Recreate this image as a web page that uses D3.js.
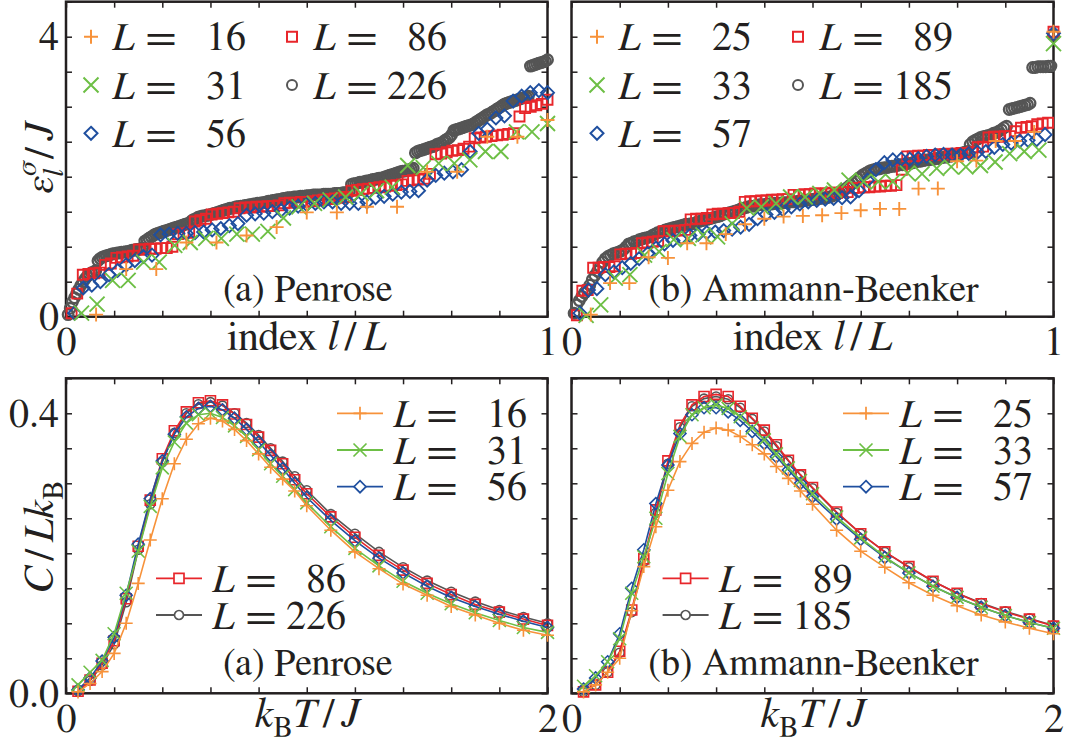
<!DOCTYPE html>
<html><head><meta charset="utf-8">
<script src="https://cdn.jsdelivr.net/npm/d3@7"></script>
<style>
body{margin:0;background:#fff;}
svg{display:block;}
</style></head><body>
<svg id="c" width="1065" height="744"></svg>
<script>
// ---------------- DATA ----------------
const sizesA = [16, 31, 56, 86, 226];
const sizesB = [25, 33, 57, 89, 185];
const seriesColors = ["#f7923a", "#6dbf45", "#1f4f9f", "#e8262b", "#555555"];
const seriesMarkers = ["plus", "cross", "diamond", "square", "circle"];

const epsA16 = [0.03,0.68,0.68,1.06,1.06,1.16,1.28,1.49,1.49,1.57,1.57,2.07,2.07,2.57,2.57,2.81];
const epsA31 = [0.05,0.18,0.52,0.52,0.78,0.78,1.02,1.06,1.12,1.12,1.18,1.18,1.22,1.41,1.57,1.62,1.67,1.71,1.76,1.80,1.85,2.16,2.13,2.19,2.19,2.24,2.36,2.36,2.64,2.64,2.76];
const epsA56 = [0.05,0.41,0.45,0.50,0.60,0.66,0.74,0.80,0.86,0.88,
 1.17,1.18,1.19,1.19,1.20,1.21,1.24,1.26,1.30,1.33,
 1.45,1.47,1.48,1.50,1.52,1.55,1.58,1.60,1.62,1.64,
 1.64,1.62,1.62,1.62,1.64,1.70,1.72,1.75,1.78,1.79,
 1.80,1.95,2.02,2.05,2.07,2.10,2.36,2.62,2.68,2.84,
 2.87,3.08,3.15,3.20,3.23,3.20];
const epsA86 = [0.05,0.33,0.60,0.61,0.62,0.63,0.74,0.76,0.84,0.85,
 0.86,0.87,0.96,0.96,0.97,0.97,0.98,0.98,1.00,1.18,
 1.19,1.20,1.36,1.38,1.40,1.46,1.47,1.48,1.49,1.50,
 1.55,1.56,1.56,1.57,1.57,1.58,1.58,1.59,1.62,1.63,
 1.63,1.64,1.64,1.65,1.66,1.67,1.68,1.69,1.70,1.71,
 1.80,1.81,1.82,1.83,1.84,1.85,1.86,1.87,1.88,1.89,
 1.94,1.95,1.96,1.97,2.04,2.32,2.33,2.35,2.37,2.38,
 2.40,2.43,2.55,2.56,2.57,2.58,2.59,2.60,2.61,2.62,
 2.86,2.98,3.00,3.02,3.04,3.10];
const epsA226 = [0.03,0.12,0.21,0.27,0.33,0.39,0.45,0.50,0.54,0.58,
 0.61,0.63,0.64,0.66,0.80,0.83,0.85,0.86,0.87,0.88,
 0.89,0.90,0.90,0.91,0.91,0.92,0.92,0.93,0.93,0.94,0.95,
 0.95,0.96,0.96,0.97,0.98,
 1.08,1.10,
 1.12,1.14,1.16,1.18,
 1.19,1.20,1.21,1.22,1.23,1.24,1.25,1.26,
 1.27,1.28,1.29,1.30,1.31,1.32,1.33,1.34,
 1.37,1.39,1.40,1.42,1.43,
 1.44,1.44,1.45,1.45,1.46,1.47,1.48,
 1.49,1.50,1.51,1.52,1.53,1.54,1.55,1.55,
 1.56,1.57,1.57,1.58,1.58,1.59,1.59,1.60,
 1.60,1.61,1.61,1.62,1.62,1.63,1.63,1.64,
 1.65,1.65,1.66,1.66,1.67,1.67,1.68,1.69,
 1.69,1.70,1.70,1.70,1.71,1.71,1.71,1.72,1.72,1.72,1.73,1.73,1.73,1.74,1.74,
 1.74,1.74,1.74,1.75,1.75,1.75,1.75,1.75,1.76,1.76,1.76,1.76,1.77,1.77,1.77,
 1.78,
 1.89,1.90,1.90,1.91,1.92,1.92,1.93,1.94,1.94,1.95,1.96,1.96,1.97,1.98,1.98,1.99,2.00,2.01,2.02,2.03,2.04,2.05,
 2.06,2.07,2.08,2.08,2.09,2.10,2.11,2.12,
 2.34,
 2.36,2.37,2.38,2.39,2.40,2.41,2.42,2.43,2.44,2.46,2.47,2.48,2.50,2.52,
 2.54,2.56,2.60,
 2.66,
 2.67,2.68,2.69,2.70,2.71,2.72,2.73,2.74,2.75,
 2.77,2.79,2.81,2.83,2.85,2.87,2.89,2.90,
 2.92,2.94,2.96,2.98,3.00,3.02,3.04,3.05,
 3.06,3.07,3.08,3.09,3.10,3.11,3.12,3.13,3.14,3.15,
 3.58,3.59,3.60,3.61,3.62,3.63,3.64,3.65,3.67];

const epsB25 = [0.03,0.48,0.48,0.85,0.84,1.05,1.05,1.18,1.32,1.40,1.43,1.44,1.45,1.48,1.52,1.54,1.54,1.83,1.83,2.22,2.23,2.51,2.51,2.64,4.07];
const epsB33 = [0.02,0.17,0.55,0.60,0.88,0.93,1.10,1.12,1.17,1.14,1.33,1.55,1.57,1.62,1.71,1.71,1.76,1.81,1.95,1.93,1.93,1.93,2.05,2.04,2.12,2.14,2.14,2.16,2.21,2.33,2.36,2.38,3.90];
const epsB57 = [0.05,0.38,0.40,0.60,0.64,0.70,0.76,0.83,0.90,0.98,
 1.04,1.09,1.13,1.16,1.18,1.20,1.21,1.23,1.25,1.28,
 1.32,1.40,1.46,1.49,1.53,1.57,1.61,1.64,1.66,1.68,
 1.69,1.70,1.71,1.80,1.95,2.10,2.20,2.24,2.25,2.25,
 2.26,2.29,2.31,2.32,2.31,2.31,2.33,2.35,2.36,2.42,
 2.46,2.48,2.51,2.52,2.53,2.60,4.05];
const epsB89 = [0.02,0.37,0.38,0.70,0.70,0.71,0.71,0.72,0.89,0.90,
 0.90,0.91,1.05,1.06,1.07,1.08,1.22,1.22,1.23,1.23,
 1.24,1.39,1.40,1.40,1.41,1.46,1.47,1.47,1.48,1.48,
 1.50,1.64,1.65,1.65,1.66,1.66,1.67,1.67,1.68,1.68,
 1.74,1.74,1.75,1.75,1.76,1.76,1.76,1.77,1.77,1.78,
 1.78,1.84,1.84,1.85,1.85,1.86,1.86,1.87,1.87,1.88,
 2.10,2.29,2.29,2.30,2.30,2.31,2.31,2.32,2.32,2.33,
 2.33,2.34,2.34,2.35,2.42,2.43,2.56,2.57,2.57,2.58,
 2.58,2.65,2.70,2.71,2.72,2.75,2.76,2.77,4.07];
const epsB185 = [0.05,0.17,0.23,0.29,0.34,0.39,0.45,0.53,0.59,0.65,
 0.71,0.78,0.83,0.86,0.88,0.90,0.91,0.92,0.94,0.96,
 1.00,1.04,1.05,1.07,1.08,1.10,
 1.11,1.12,1.13,1.14,
 1.16,1.18,1.20,1.21,
 1.22,1.24,1.25,1.26,
 1.27,1.28,1.29,1.30,1.31,
 1.32,1.32,1.33,1.33,
 1.35,1.36,1.37,1.38,1.39,1.40,
 1.41,1.42,1.43,1.44,1.46,1.47,1.48,
 1.49,1.50,1.51,1.52,1.54,1.55,
 1.56,1.57,1.58,1.58,1.59,1.60,
 1.60,1.60,1.61,1.61,1.61,1.62,1.62,1.62,1.63,1.63,1.63,1.64,1.64,
 1.64,1.65,1.65,1.66,1.66,1.67,1.67,1.68,1.68,1.69,1.69,1.70,1.70,
 1.71,1.72,1.74,1.75,1.77,1.79,
 1.82,1.85,1.88,1.91,1.94,1.97,2.00,
 2.03,2.05,2.07,2.09,2.10,
 2.11,2.11,2.12,2.13,2.13,2.14,2.15,2.15,2.16,2.17,
 2.17,2.18,2.19,2.19,2.20,2.21,2.22,2.22,2.23,2.24,
 2.24,2.25,2.25,2.26,2.26,2.27,2.28,2.28,2.29,
 2.30,2.31,2.32,2.33,2.34,2.35,2.36,
 2.46,2.50,2.52,2.54,2.56,2.57,
 2.58,2.59,2.60,2.62,2.63,2.65,2.67,2.70,
 2.72,
 2.96,2.97,2.98,2.99,3.00,3.01,3.02,3.03,3.05,
 3.56,3.56,3.57,3.57,3.57,3.57,3.58,3.58,
 4.02];

const temps = [0.05,0.1,0.15,0.2,0.25,0.3,0.35,0.4,0.45,0.5,0.55,0.6,0.65,0.7,0.75,0.8,0.85,0.9,0.95,1.0,1.1,1.2,1.3,1.4,1.5,1.6,1.7,1.8,1.9,2.0];
const heatA16  = [0.002,0.014,0.031,0.057,0.100,0.157,0.219,0.278,0.328,0.363,0.385,0.393,0.389,0.377,0.361,0.342,0.323,0.306,0.289,0.268,0.233,0.202,0.178,0.156,0.140,0.124,0.112,0.100,0.090,0.083];
const heatA31  = [0.012,0.030,0.047,0.085,0.143,0.203,0.267,0.322,0.359,0.386,0.398,0.400,0.394,0.382,0.367,0.348,0.328,0.310,0.291,0.272,0.238,0.207,0.182,0.160,0.143,0.128,0.115,0.104,0.094,0.087];
const heatA56  = [0.005,0.022,0.046,0.080,0.140,0.213,0.278,0.332,0.370,0.395,0.407,0.410,0.405,0.393,0.377,0.359,0.340,0.321,0.300,0.280,0.247,0.218,0.193,0.172,0.153,0.137,0.124,0.113,0.103,0.094];
const heatA86  = [0.003,0.019,0.043,0.075,0.135,0.210,0.276,0.335,0.375,0.402,0.415,0.418,0.412,0.399,0.384,0.366,0.347,0.328,0.305,0.285,0.252,0.223,0.197,0.176,0.157,0.141,0.127,0.116,0.106,0.097];
const heatA226 = [0.003,0.018,0.040,0.070,0.130,0.205,0.270,0.330,0.372,0.400,0.413,0.416,0.411,0.400,0.386,0.369,0.350,0.331,0.310,0.290,0.256,0.228,0.202,0.180,0.161,0.145,0.131,0.119,0.109,0.100];
const heatB25  = [0.002,0.012,0.030,0.050,0.118,0.181,0.238,0.290,0.331,0.357,0.373,0.379,0.376,0.367,0.355,0.342,0.324,0.307,0.289,0.270,0.233,0.203,0.180,0.158,0.140,0.125,0.112,0.102,0.093,0.085];
const heatB33  = [0.010,0.025,0.045,0.078,0.143,0.195,0.250,0.314,0.367,0.398,0.408,0.412,0.407,0.395,0.379,0.362,0.342,0.322,0.304,0.285,0.252,0.222,0.195,0.172,0.153,0.137,0.123,0.111,0.101,0.093];
const heatB57  = [0.006,0.022,0.045,0.085,0.150,0.205,0.271,0.326,0.371,0.398,0.408,0.408,0.402,0.390,0.374,0.357,0.338,0.319,0.300,0.281,0.249,0.220,0.194,0.172,0.153,0.137,0.123,0.111,0.101,0.093];
const heatB89  = [0.002,0.012,0.030,0.060,0.119,0.192,0.262,0.332,0.383,0.412,0.424,0.427,0.424,0.410,0.393,0.376,0.355,0.333,0.312,0.294,0.259,0.228,0.202,0.181,0.160,0.143,0.128,0.116,0.106,0.096];
const heatB185 = [0.002,0.012,0.030,0.058,0.116,0.188,0.258,0.328,0.380,0.410,0.421,0.424,0.420,0.408,0.392,0.374,0.353,0.332,0.312,0.293,0.258,0.228,0.202,0.180,0.160,0.143,0.129,0.117,0.107,0.097];

const indexTicks = d3.range(0, 10.5, 1).map(d => d / 10);
const indexTickLabels = [0, 1];
const epsTicks = d3.range(0, 9.5, 1).map(d => d / 2);
const epsTickLabels = [0, 4];
const tempTicks = d3.range(0, 10.5, 1).map(d => d / 5);
const tempTickLabels = [0, 2];
const heatTicks = d3.range(0, 9.5, 1).map(d => d / 20);
const heatTickLabels = [0, 0.4];
const panelNames = ["(a) Penrose", "(b) Ammann-Beenker"];

// ---------------- FONT PICK ----------------
function fontAvailable(name) {
  const c = document.createElement("canvas").getContext("2d");
  const s = "mmmmmmmmmmlli1WQ@#ajgy";
  const res = [];
  for (const base of ["monospace", "sans-serif", "cursive"]) {
    c.font = `72px ${base}`; const w0 = c.measureText(s).width;
    c.font = `72px "${name}", ${base}`; const w1 = c.measureText(s).width;
    res.push(Math.abs(w1 - w0) > 0.5);
  }
  return res.every(v => v);
}
const candidates = ["Liberation Serif", "FreeSerif", "Tinos", "Times New Roman", "Nimbus Roman", "Noto Serif", "DejaVu Serif"];
const found = candidates.filter(fontAvailable);
const FONT = found.length ? `"${found[0]}", serif` : "serif";

// ---------------- DRAW ----------------
const svg = d3.select("#c");
const INK = "#231f20";
const FS = 40;
svg.style("font-family", FONT);

const epsA = [epsA16, epsA31, epsA56, epsA86, epsA226];
const epsB = [epsB25, epsB33, epsB57, epsB89, epsB185];
const heatA = [heatA16, heatA31, heatA56, heatA86, heatA226];
const heatB = [heatB25, heatB33, heatB57, heatB89, heatB185];

function markerPath(type, s) {
  switch (type) {
    case "plus": return `M${-s.p},0H${s.p}M0,${-s.p}V${s.p}`;
    case "cross": return `M${-s.x},${-s.x}L${s.x},${s.x}M${-s.x},${s.x}L${s.x},${-s.x}`;
    case "square": return `M${-s.s},${-s.s}H${s.s}V${s.s}H${-s.s}Z`;
    case "diamond": return `M0,${-s.d}L${s.d},0L0,${s.d}L${-s.d},0Z`;
    default: return `M${s.c},0A${s.c},${s.c} 0 1,1 ${-s.c},0A${s.c},${s.c} 0 1,1 ${s.c},0Z`;
  }
}
const topSize = {p: 7, x: 7.5, s: 5, d: 6.5, c: 5.3};
const legSize = {p: 7, x: 7.5, s: 5, d: 6.5, c: 5};
const botSize = {p: 6.5, x: 6.5, s: 5, d: 6, c: 4.5};

function txt(g) { return g.append("text").attr("font-family", FONT).attr("fill", INK); }

function frameAndAxes(g, x, y, xt, xl, yt, yl, showY) {
  const [yb, yt0] = y.range();
  const [xl0, xr] = x.range();
  const fmtX = d => xl.some(v => Math.abs(v - d) < 1e-9) ? d3.format("d")(d) : "";
  const fmtY = d => yl.some(v => Math.abs(v - d) < 1e-9) ? (yl[1] < 1 ? d3.format(".1f")(d) : d3.format("d")(d)) : "";
  const style = a => a.attr("font-size", FS).attr("font-family", FONT).attr("color", INK)
    .call(s => s.select(".domain").remove())
    .call(s => s.selectAll(".tick line").attr("stroke-width", 1.5));
  g.append("g").attr("transform", `translate(0,${yb})`)
    .call(d3.axisBottom(x).tickValues(xt).tickSize(-6).tickSizeOuter(0).tickPadding(10).tickFormat(fmtX)).call(style);
  g.append("g").attr("transform", `translate(0,${yt0})`)
    .call(d3.axisTop(x).tickValues(xt).tickSize(-6).tickSizeOuter(0).tickFormat("")).call(style);
  g.append("g").attr("transform", `translate(${xl0},0)`)
    .call(d3.axisLeft(y).tickValues(yt).tickSize(-6).tickSizeOuter(0).tickPadding(7).tickFormat(showY ? fmtY : "")).call(style);
  g.append("g").attr("transform", `translate(${xr},0)`)
    .call(d3.axisRight(y).tickValues(yt).tickSize(-6).tickSizeOuter(0).tickFormat("")).call(style);
  g.append("rect").attr("x", xl0).attr("y", yt0).attr("width", xr - xl0).attr("height", yb - yt0)
    .attr("fill", "none").attr("stroke", INK).attr("stroke-width", 2.5);
}

function legendText(g, mx, my, L, offL, offEq, offNum) {
  const by = my + 13.5;
  const t = txt(g).attr("y", by).attr("font-size", FS);
  t.append("tspan").attr("x", mx + offL).attr("font-style", "italic").text("L");
  t.append("tspan").attr("x", mx + offEq).attr("textLength", 30).attr("lengthAdjust", "spacingAndGlyphs").text("=");
  const num = String(L);
  t.append("tspan").attr("x", mx + offNum - num.length * FS * 0.5).text(num);
}

function topPanel(x0, x1, sizes, eps, legendX, name, showY) {
  const g = svg.append("g");
  const x = d3.scaleLinear().domain([0, 1]).range([x0, x1]);
  const y = d3.scaleLinear().domain([0, 4.5]).range([316.7, 1.7]);
  frameAndAxes(g, x, y, indexTicks, indexTickLabels, epsTicks, epsTickLabels, showY);
  [4, 3, 2, 1, 0].forEach(k => {
    const L = sizes[k];
    const pts = eps[k].map((v, i) => [x((i + 1) / L), y(v)]);
    g.append("g").selectAll("path").data(pts).join("path")
      .attr("d", markerPath(seriesMarkers[k], topSize))
      .attr("transform", d => `translate(${d[0]},${d[1]})`)
      .attr("fill", "none").attr("stroke", seriesColors[k]).attr("stroke-width", k === 4 ? 2.3 : 1.9);
  });
  const rows = [36.7, 85, 133.3];
  sizes.forEach((L, k) => {
    const mx = k < 3 ? legendX[0] : legendX[1];
    const my = rows[k % 3];
    g.append("path").attr("d", markerPath(seriesMarkers[k], legSize))
      .attr("transform", `translate(${mx},${my})`)
      .attr("fill", "none").attr("stroke", seriesColors[k]).attr("stroke-width", 2);
    legendText(g, mx, my, L, 21, 55, 155);
  });
  txt(g).attr("x", (x0 + x1) / 2 + 1).attr("y", 301).attr("text-anchor", "middle")
    .attr("font-size", 38).text(name);
  const t = txt(g).attr("x", (x0 + x1) / 2).attr("y", 350).attr("text-anchor", "middle").attr("font-size", 42);
  t.append("tspan").text("index ");
  t.append("tspan").attr("font-style", "italic").text("l");
  t.append("tspan").attr("dx", 6).text("/");
  t.append("tspan").attr("dx", 6).attr("font-style", "italic").text("L");
}

function botPanel(x0, x1, sizes, heat, legR, legL, name, showY) {
  const g = svg.append("g");
  const x = d3.scaleLinear().domain([0, 2]).range([x0, x1]);
  const y = d3.scaleLinear().domain([0, 0.45]).range([693.3, 378.3]);
  frameAndAxes(g, x, y, tempTicks, tempTickLabels, heatTicks, heatTickLabels, showY);
  const line = d3.line().x(d => x(d[0])).y(d => y(d[1]));
  [4, 3, 2, 1, 0].forEach(k => {
    const pts = heat[k].map((v, i) => [temps[i], v]);
    g.append("path").attr("d", line(pts)).attr("fill", "none")
      .attr("stroke", seriesColors[k]).attr("stroke-width", 1.6);
    g.append("g").selectAll("path").data(pts).join("path")
      .attr("d", markerPath(seriesMarkers[k], botSize))
      .attr("transform", d => `translate(${x(d[0])},${y(d[1])})`)
      .attr("fill", "none").attr("stroke", seriesColors[k]).attr("stroke-width", 1.6);
  });
  const rowsR = [413.3, 450, 486.7];
  const rowsL = [578.3, 615];
  sizes.forEach((L, k) => {
    const mx = k < 3 ? legR : legL;
    const my = k < 3 ? rowsR[k] : rowsL[k - 3];
    g.append("line").attr("x1", mx - 23).attr("x2", mx + 23).attr("y1", my).attr("y2", my)
      .attr("stroke", seriesColors[k]).attr("stroke-width", 1.8);
    g.append("path").attr("d", markerPath(seriesMarkers[k], botSize))
      .attr("transform", `translate(${mx},${my})`)
      .attr("fill", "#fff").attr("stroke", seriesColors[k]).attr("stroke-width", 1.7);
    legendText(g, mx, my, L, 33, 67, 167);
  });
  txt(g).attr("x", (x0 + x1) / 2 + 1).attr("y", 675).attr("text-anchor", "middle")
    .attr("font-size", 38).text(name);
  const t = txt(g).attr("x", (x0 + x1) / 2).attr("y", 727).attr("text-anchor", "middle").attr("font-size", 42);
  t.append("tspan").attr("font-style", "italic").text("k");
  t.append("tspan").attr("font-size", 29).attr("dy", 9).text("B");
  t.append("tspan").attr("font-style", "italic").attr("dy", -9).text("T");
  t.append("tspan").attr("dx", 6).text("/");
  t.append("tspan").attr("dx", 6).attr("font-style", "italic").text("J");
}

topPanel(66, 547.5, sizesA, epsA, [91, 292], panelNames[0], true);
topPanel(571.5, 1053.5, sizesB, epsB, [597, 798], panelNames[1], false);
botPanel(66, 547.5, sizesA, heatA, 360, 179, panelNames[0], true);
botPanel(571.5, 1053.5, sizesB, heatB, 866, 685.6, panelNames[1], false);

const yl1 = txt(svg).attr("transform", "translate(53,158) rotate(-90)")
  .attr("text-anchor", "middle").attr("font-size", 42);
yl1.append("tspan").attr("font-style", "italic").text("ε");
yl1.append("tspan").attr("font-style", "italic").attr("font-size", 29).attr("dy", -17).text("σ");
yl1.append("tspan").attr("font-style", "italic").attr("font-size", 29).attr("dx", -15).attr("dy", 27).text("l");
yl1.append("tspan").attr("dx", 10).attr("dy", -10).text("/");
yl1.append("tspan").attr("dx", 6).attr("font-style", "italic").text("J");

const yl2 = txt(svg).attr("transform", "translate(53,537) rotate(-90)")
  .attr("text-anchor", "middle").attr("font-size", 42);
yl2.append("tspan").attr("font-style", "italic").text("C");
yl2.append("tspan").attr("dx", 6).text("/");
yl2.append("tspan").attr("dx", 6).attr("font-style", "italic").text("Lk");
yl2.append("tspan").attr("font-size", 29).attr("dy", 9).text("B");
</script></body></html>
